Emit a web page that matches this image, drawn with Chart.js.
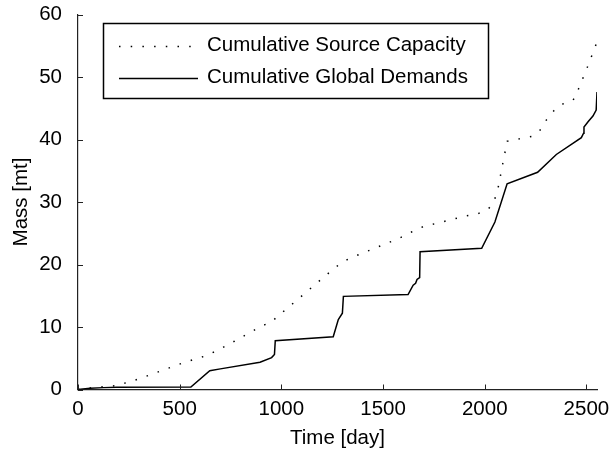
<!DOCTYPE html>
<html>
<head>
<meta charset="utf-8">
<script src="https://cdn.jsdelivr.net/npm/chart.js@4.4.1/dist/chart.umd.min.js"></script>
<style>
    html, body { margin: 0; padding: 0; background: #fff; }
    #wrap { position: relative; width: 613px; height: 453px; }
</style>
</head>
<body>
<div id="wrap"><canvas id="chartMass" width="613" height="453"></canvas></div>
<script>
// cumulative source capacity (dotted)
const sourceDays = [0, 60, 180, 240, 300, 410, 520, 630, 700, 790, 900, 950, 1000, 1080, 1170, 1260, 1305, 1360, 1470, 1580, 1640, 1700, 1790, 1905, 1965, 2018, 2045, 2066, 2110, 2170, 2230, 2270, 2300, 2340, 2385, 2435, 2460, 2505, 2552];
const sourceMass = [0, 0.25, 0.6, 1.1, 1.7, 3.0, 4.3, 5.4, 6.5, 8.1, 10.1, 10.8, 12.2, 14.4, 16.9, 19.4, 20.5, 21.3, 22.75, 24.2, 25.2, 26.1, 26.8, 27.75, 28.1, 28.9, 30.0, 32.3, 39.7, 40.1, 40.5, 41.4, 43.0, 44.6, 45.7, 46.3, 48.0, 51.6, 55.6];

// cumulative global demands (solid)
const demandDays = [0, 60, 125, 190, 555, 648, 700, 895, 952, 966, 970, 1255, 1280, 1300, 1305, 1623, 1648, 1660, 1667, 1680, 1682, 1985, 2050, 2110, 2260, 2352, 2475, 2486, 2488, 2508, 2532, 2548, 2552];
const demandMass = [0, 0.2, 0.3, 0.35, 0.4, 3.0, 3.3, 4.35, 5.1, 5.6, 7.8, 8.45, 11.2, 12.2, 14.9, 15.2, 16.7, 17.0, 17.6, 17.9, 22.05, 22.6, 26.8, 32.9, 34.75, 37.6, 40.3, 41.0, 42.0, 42.85, 43.75, 44.7, 47.6];

const seriesLabels = ['Cumulative Source Capacity', 'Cumulative Global Demands'];
const xTicks = [0, 500, 1000, 1500, 2000, 2500];
const yTicks = [0, 10, 20, 30, 40, 50, 60];
const xMax = 2552;
const yMax = 60;

const FONT = '"Liberation Sans", Arial, Helvetica, sans-serif';
const DOTS = [1.5, 10.2];

const toPoints = (xs, ys) => xs.map((x, i) => ({ x, y: ys[i] }));

// inward tick marks, matlab style
const tickMarks = {
    id: 'tickMarks',
    afterDraw(chart) {
        const { ctx, chartArea, scales } = chart;
        ctx.save();
        ctx.strokeStyle = '#222';
        ctx.lineWidth = 1;
        scales.x.ticks.forEach(t => {
            const px = Math.round(scales.x.getPixelForValue(t.value)) + 0.5;
            ctx.beginPath();
            ctx.moveTo(px, chartArea.bottom);
            ctx.lineTo(px, chartArea.bottom - 5);
            ctx.stroke();
        });
        scales.y.ticks.forEach(t => {
            const py = Math.round(scales.y.getPixelForValue(t.value)) + 0.5;
            ctx.beginPath();
            ctx.moveTo(chartArea.left, py);
            ctx.lineTo(chartArea.left + 5, py);
            ctx.stroke();
        });
        ctx.restore();
    }
};

// boxed legend in the upper left
const boxLegend = {
    id: 'boxLegend',
    afterDraw(chart) {
        const { ctx } = chart;
        const box = { x: 103.5, y: 23.5, w: 385, h: 75 };
        const rows = [45.5, 77.5];
        ctx.save();
        ctx.fillStyle = '#fff';
        ctx.fillRect(box.x, box.y, box.w, box.h);
        ctx.strokeStyle = '#000';
        ctx.lineWidth = 1.5;
        ctx.strokeRect(box.x, box.y, box.w, box.h);

        chart.data.datasets.forEach((ds, i) => {
            const y = Math.round(rows[i]) + 0.5;
            ctx.beginPath();
            ctx.strokeStyle = ds.borderColor;
            ctx.lineWidth = ds.borderWidth;
            ctx.setLineDash(ds.borderDash || []);
            ctx.moveTo(119, y);
            ctx.lineTo(198, y);
            ctx.stroke();
            ctx.setLineDash([]);
            ctx.fillStyle = '#000';
            ctx.font = '20.5px ' + FONT;
            ctx.textBaseline = 'middle';
            ctx.fillText(ds.label, 207, rows[i]);
        });
        ctx.restore();
    }
};

new Chart(document.getElementById('chartMass'), {
    type: 'line',
    data: {
        datasets: [
            {
                label: seriesLabels[0],
                data: toPoints(sourceDays, sourceMass),
                borderColor: '#000',
                borderWidth: 1.5,
                borderDash: DOTS,
                pointRadius: 0,
                fill: false,
                tension: 0
            },
            {
                label: seriesLabels[1],
                data: toPoints(demandDays, demandMass),
                borderColor: '#000',
                borderWidth: 1.5,
                pointRadius: 0,
                fill: false,
                tension: 0
            }
        ]
    },
    options: {
        responsive: false,
        animation: false,
        layout: { padding: { top: 14.5, right: 16, left: 0, bottom: 0 } },
        plugins: {
            legend: { display: false },
            tooltip: { enabled: false }
        },
        scales: {
            x: {
                type: 'linear',
                min: 0,
                max: xMax,
                grid: { display: false },
                border: { display: true, color: '#222', width: 1.2 },
                afterBuildTicks(scale) {
                    scale.ticks = xTicks.map(v => ({ value: v }));
                },
                ticks: {
                    padding: 0,
                    color: '#000',
                    maxRotation: 0,
                    autoSkip: false,
                    callback: v => String(v),
                    font: { family: FONT, size: 20.5 }
                },
                title: {
                    display: true,
                    text: 'Time [day]',
                    color: '#000',
                    padding: { top: 0, bottom: 2 },
                    font: { family: FONT, size: 20.5 }
                },
                afterFit(scale) {
                    scale.height = 63.5;
                    scale.paddingLeft = 0;
                    scale.paddingRight = 0;
                }
            },
            y: {
                min: 0,
                max: yMax,
                grid: { display: false },
                border: { display: true, color: '#222', width: 1.2 },
                afterBuildTicks(scale) {
                    scale.ticks = yTicks.map(v => ({ value: v }));
                },
                ticks: {
                    padding: 8,
                    color: '#000',
                    autoSkip: false,
                    callback: v => String(v),
                    font: { family: FONT, size: 20.5 }
                },
                title: {
                    display: true,
                    text: 'Mass [mt]',
                    color: '#000',
                    padding: { top: 9, bottom: 0 },
                    font: { family: FONT, size: 20.5 }
                },
                afterFit(scale) {
                    scale.width = 78;
                    scale.paddingTop = 0;
                    scale.paddingBottom = 0;
                }
            }
        }
    },
    plugins: [tickMarks, boxLegend]
});
</script>
</body>
</html>
